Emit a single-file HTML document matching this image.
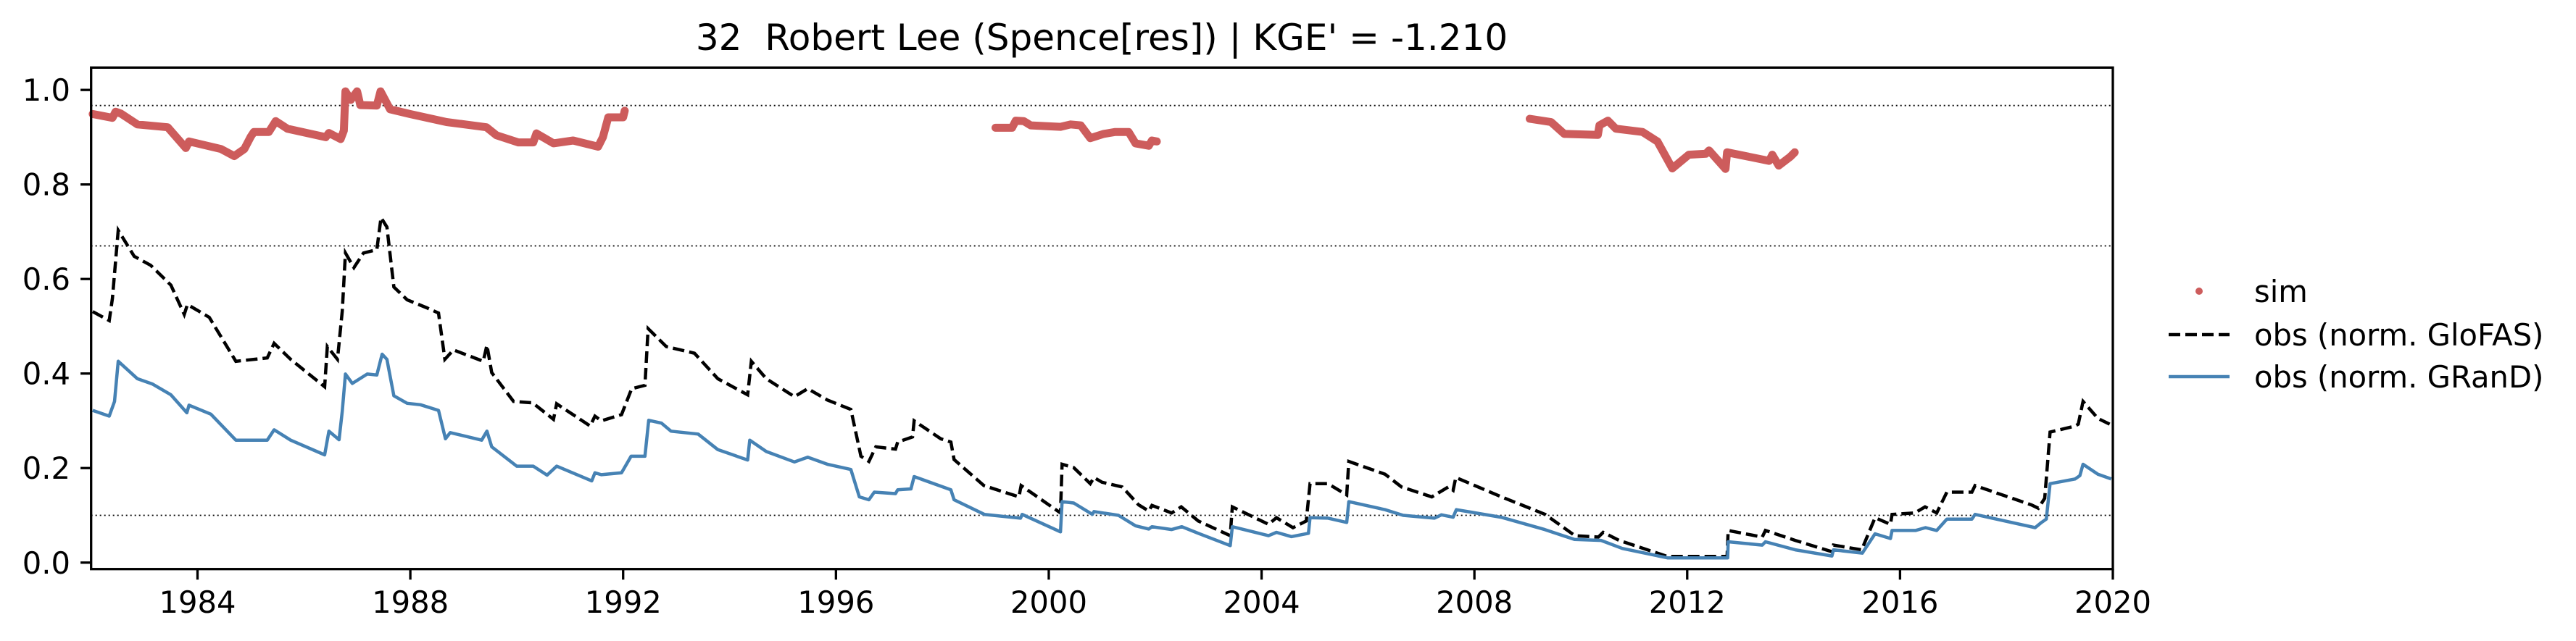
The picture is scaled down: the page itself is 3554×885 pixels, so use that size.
<!DOCTYPE html>
<html><head><meta charset="utf-8">
<style>
html,body{margin:0;padding:0;background:#fff;}
svg{display:block;font-family:"DejaVu Sans","Liberation Sans",sans-serif;}
#title{white-space:pre;}
</style></head>
<body>
<svg id="chart" width="3554" height="885" viewBox="0 0 3554 885" xmlns="http://www.w3.org/2000/svg">
<rect x="0" y="0" width="3554" height="885" fill="#fff"/>
<text id="title" x="1520" y="69" font-size="50" text-anchor="middle" fill="#000" xml:space="preserve">32  Robert Lee (Spence[res]) | KGE' = -1.210</text>
<g id="plot"></g>
<g id="axes"></g>
<g>
  <circle cx="3034" cy="402" r="5" fill="#cd5c5c"/>
  <text x="3110" y="417" font-size="41.7">sim</text>
  <line x1="2992" y1="462" x2="3076" y2="462" stroke="#000" stroke-width="4.5" stroke-dasharray="16 7"/>
  <text x="3110" y="477" font-size="41.7">obs (norm. GloFAS)</text>
  <line x1="2992" y1="520" x2="3076" y2="520" stroke="#4682b4" stroke-width="4.5"/>
  <text x="3110" y="535" font-size="41.7">obs (norm. GRanD)</text>
</g>
</svg>
<script>
const xTicks = [1984,1988,1992,1996,2000,2004,2008,2012,2016,2020];
const yTicks = [0.0,0.2,0.4,0.6,0.8,1.0];
const refLines = [0.967,0.67,0.10];

const grandYears = [1982.03,1982.34,1982.44,1982.51,1982.87,1983.15,1983.5,1983.8,1983.84,1984.25,1984.72,1985.31,1985.44,1985.75,1986.39,1986.47,1986.66,1986.72,1986.78,1986.91,1987.19,1987.37,1987.47,1987.56,1987.69,1987.94,1988.19,1988.53,1988.66,1988.75,1989.34,1989.44,1989.53,1990.0,1990.31,1990.57,1990.75,1991.41,1991.47,1991.59,1991.97,1992.15,1992.41,1992.48,1992.72,1992.9,1993.41,1993.78,1994.34,1994.38,1994.69,1995.22,1995.47,1995.84,1996.28,1996.44,1996.62,1996.72,1997.12,1997.16,1997.41,1997.47,1998.16,1998.22,1998.79,1999.47,1999.5,2000.22,2000.25,2000.47,2000.82,2000.85,2001.31,2001.63,2001.88,2001.94,2002.31,2002.5,2002.81,2003.41,2003.45,2004.13,2004.28,2004.56,2004.88,2004.91,2005.25,2005.6,2005.64,2006.32,2006.66,2007.25,2007.38,2007.6,2007.66,2008.5,2009.32,2009.88,2010.38,2010.78,2011.63,2012.76,2012.77,2013.41,2013.47,2014.03,2014.72,2014.75,2015.29,2015.53,2015.82,2015.85,2016.29,2016.48,2016.69,2016.88,2017.35,2017.41,2018.54,2018.66,2018.75,2018.82,2019.29,2019.38,2019.44,2019.72,2019.97];
const grandValues = [0.322,0.310,0.341,0.426,0.389,0.378,0.355,0.317,0.333,0.314,0.259,0.259,0.281,0.259,0.228,0.278,0.260,0.320,0.399,0.379,0.399,0.397,0.441,0.430,0.353,0.337,0.334,0.322,0.262,0.275,0.259,0.278,0.245,0.204,0.204,0.185,0.204,0.173,0.190,0.186,0.190,0.225,0.225,0.301,0.295,0.278,0.272,0.239,0.217,0.259,0.235,0.213,0.223,0.208,0.197,0.139,0.133,0.149,0.146,0.154,0.156,0.182,0.154,0.133,0.102,0.094,0.102,0.065,0.129,0.126,0.102,0.108,0.100,0.078,0.071,0.076,0.070,0.076,0.062,0.036,0.076,0.057,0.064,0.055,0.062,0.095,0.094,0.085,0.129,0.112,0.100,0.094,0.101,0.096,0.112,0.096,0.070,0.049,0.047,0.030,0.010,0.010,0.044,0.037,0.044,0.027,0.014,0.027,0.020,0.061,0.051,0.068,0.068,0.074,0.068,0.092,0.092,0.102,0.074,0.085,0.092,0.167,0.177,0.184,0.208,0.187,0.177];

const glofasYears = [1982.03,1982.34,1982.40,1982.51,1982.81,1983.12,1983.5,1983.75,1983.81,1984.22,1984.72,1985.31,1985.44,1985.75,1986.39,1986.44,1986.63,1986.72,1986.78,1986.94,1987.12,1987.37,1987.45,1987.56,1987.69,1987.94,1988.31,1988.53,1988.65,1988.81,1989.37,1989.44,1989.53,1989.94,1990.3,1990.69,1990.75,1991.38,1991.47,1991.59,1991.97,1992.16,1992.41,1992.47,1992.81,1993.34,1993.78,1994.34,1994.41,1994.69,1995.22,1995.47,1995.84,1996.28,1996.47,1996.62,1996.75,1997.12,1997.16,1997.44,1997.47,1997.97,1998.16,1998.22,1998.78,1999.44,1999.48,2000.22,2000.25,2000.47,2000.78,2000.85,2001.0,2001.38,2001.69,2001.88,2001.94,2002.31,2002.49,2002.81,2003.41,2003.45,2004.13,2004.28,2004.59,2004.84,2004.91,2005.25,2005.6,2005.64,2006.32,2006.63,2007.2,2007.51,2007.6,2007.65,2008.51,2009.33,2009.89,2010.33,2010.42,2010.72,2011.63,2012.75,2012.77,2013.41,2013.47,2014.03,2014.72,2014.75,2015.28,2015.53,2015.82,2015.85,2016.28,2016.47,2016.69,2016.88,2017.35,2017.41,2018.47,2018.6,2018.72,2018.82,2019.29,2019.35,2019.44,2019.72,2019.94];
const glofasValues = [0.531,0.512,0.559,0.703,0.648,0.629,0.587,0.525,0.546,0.519,0.426,0.433,0.464,0.430,0.372,0.457,0.430,0.532,0.655,0.624,0.655,0.662,0.730,0.710,0.583,0.556,0.539,0.528,0.430,0.450,0.426,0.460,0.402,0.341,0.338,0.303,0.336,0.289,0.310,0.300,0.313,0.368,0.375,0.495,0.457,0.443,0.389,0.355,0.426,0.389,0.351,0.368,0.344,0.324,0.225,0.214,0.245,0.240,0.255,0.266,0.300,0.262,0.255,0.218,0.163,0.139,0.163,0.105,0.208,0.201,0.167,0.180,0.170,0.160,0.122,0.109,0.121,0.105,0.118,0.088,0.057,0.118,0.081,0.095,0.074,0.088,0.167,0.167,0.143,0.214,0.187,0.160,0.139,0.160,0.153,0.180,0.139,0.102,0.057,0.054,0.064,0.047,0.013,0.013,0.068,0.054,0.068,0.047,0.023,0.037,0.027,0.095,0.081,0.102,0.105,0.118,0.105,0.149,0.149,0.163,0.122,0.115,0.136,0.276,0.289,0.293,0.341,0.305,0.293];

const simYears = [1982.03,1982.4,1982.46,1982.56,1982.87,1983.44,1983.78,1983.84,1984.44,1984.69,1984.88,1985.0,1985.06,1985.34,1985.47,1985.69,1986.41,1986.47,1986.69,1986.75,1986.78,1986.88,1987.0,1987.06,1987.37,1987.44,1987.62,1987.99,1988.68,1989.43,1989.62,1990.03,1990.31,1990.37,1990.69,1991.06,1991.53,1991.62,1991.72,1992.0,1992.03,null,1999.0,1999.31,1999.38,1999.53,1999.66,2000.22,2000.41,2000.6,2000.78,2001.03,2001.25,2001.5,2001.63,2001.88,2001.94,2002.03,null,2009.04,2009.44,2009.69,2010.32,2010.35,2010.51,2010.66,2011.16,2011.44,2011.72,2012.03,2012.35,2012.41,2012.72,2012.75,2013.54,2013.6,2013.72,2013.94,2014.02];
const simValues = [0.949,0.941,0.954,0.950,0.927,0.921,0.877,0.891,0.875,0.860,0.875,0.901,0.911,0.911,0.934,0.918,0.900,0.909,0.896,0.914,0.997,0.979,0.997,0.968,0.967,0.997,0.959,0.949,0.932,0.921,0.904,0.889,0.889,0.908,0.887,0.893,0.880,0.900,0.942,0.942,0.956,null,0.920,0.920,0.935,0.934,0.925,0.922,0.927,0.925,0.898,0.907,0.911,0.911,0.887,0.882,0.893,0.891,null,0.939,0.932,0.907,0.905,0.925,0.935,0.918,0.911,0.891,0.834,0.863,0.865,0.872,0.833,0.868,0.850,0.863,0.840,0.859,0.868];

const X0=125.7, X1=2915, Y0=93.3, Y1=785.7;
const xMin=1982.0, xMax=2020.0, yMin=-0.0137, yMax=1.0473;
function xs(v){return X0+(v-xMin)/(xMax-xMin)*(X1-X0);}
function ys(v){return Y1-(v-yMin)/(yMax-yMin)*(Y1-Y0);}
const NS="http://www.w3.org/2000/svg";
const plot=document.getElementById('plot');
const axes=document.getElementById('axes');
function mk(tag,attrs,parent){const e=document.createElementNS(NS,tag);for(const k in attrs)e.setAttribute(k,attrs[k]);parent.appendChild(e);return e;}

refLines.forEach(function(v){
  const l=mk('line',{x1:X0,x2:X1,y1:ys(v),y2:ys(v),stroke:'#000','stroke-width':1.8,'stroke-dasharray':'2 4'},plot);
  
  
});

function pathFrom(xsArr,vsArr){
  let d='',pen=false;
  for(let i=0;i<xsArr.length;i++){
    if(xsArr[i]===null||vsArr[i]===null){pen=false;continue;}
    d+=(pen?'L':'M')+xs(xsArr[i]).toFixed(1)+' '+ys(vsArr[i]).toFixed(1)+' ';
    pen=true;
  }
  return d;
}
const sim=mk('path',{d:pathFrom(simYears,simValues),fill:'none',stroke:'#cd5c5c','stroke-width':11,'stroke-linecap':'round','stroke-linejoin':'round'},plot);


const glo=mk('path',{d:pathFrom(glofasYears,glofasValues),fill:'none',stroke:'#000','stroke-width':4.5,'stroke-dasharray':'16 7'},plot);


const gr=mk('path',{d:pathFrom(grandYears,grandValues),fill:'none',stroke:'#4682b4','stroke-width':4.5,'stroke-linejoin':'round'},plot);



const frame=mk('rect',{x:X0,y:Y0,width:X1-X0,height:Y1-Y0,fill:'none',stroke:'#000','stroke-width':3.3},axes);



xTicks.forEach(function(t){
  const x=xs(t);
  const tk=mk('line',{x1:x,x2:x,y1:Y1,y2:Y1+14.6,stroke:'#000','stroke-width':3.3},axes);
  
  
  const lb=mk('text',{x:x,y:846,'font-size':41.7,'text-anchor':'middle',fill:'#000'},axes);
  lb.textContent=String(t);
  
  
});
yTicks.forEach(function(t){
  const y=ys(t);
  const tk=mk('line',{x1:X0-14.6,x2:X0,y1:y,y2:y,stroke:'#000','stroke-width':3.3},axes);
  
  
  const lb=mk('text',{x:97,y:y+15,'font-size':41.7,'text-anchor':'end',fill:'#000'},axes);
  lb.textContent=t.toFixed(1);
  
  
});
</script>
</body></html>
